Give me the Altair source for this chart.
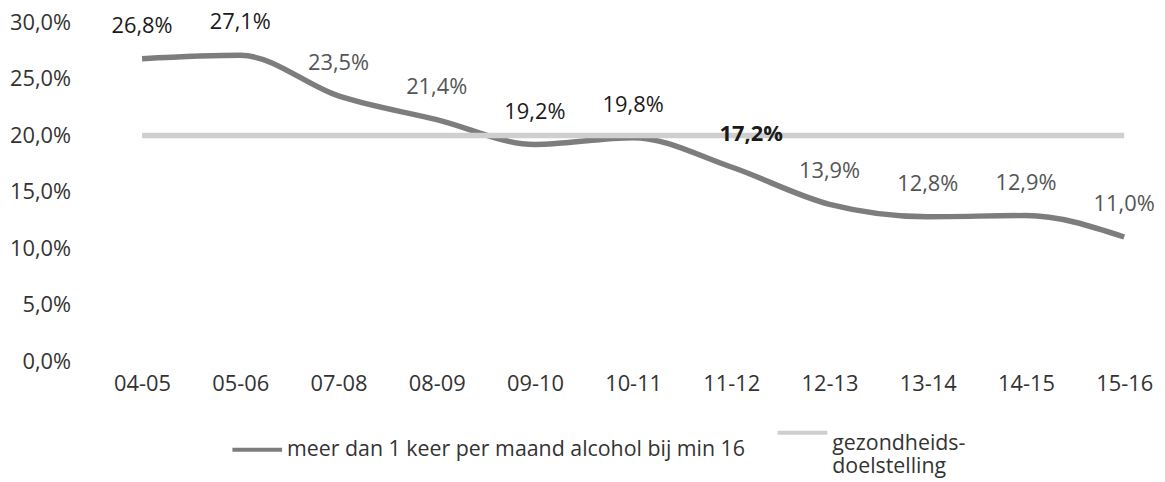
import altair as alt
import pandas as pd

periods = ["04-05", "05-06", "07-08", "08-09", "09-10", "10-11",
           "11-12", "12-13", "13-14", "14-15", "15-16"]
values = [26.8, 27.1, 23.5, 21.4, 19.2, 19.8, 17.2, 13.9, 12.8, 12.9, 11.0]
target = [20.0] * len(periods)

series_main = "meer dan 1 keer per maand alcohol bij min 16"
series_target = "gezondheids-doelstelling"

rows = []
for p, v in zip(periods, values):
    rows.append({"periode": p, "waarde": v / 100, "reeks": series_main,
                 "label": f"{v:.1f}%".replace(".", ",")})
for p, t in zip(periods, target):
    rows.append({"periode": p, "waarde": t / 100, "reeks": series_target, "label": ""})
df = pd.DataFrame(rows)

FONT = "Open Sans"
FS = 22

x = alt.X("periode:N", sort=periods, title=None,
          scale=alt.Scale(type="point", padding=0.435, align=0.674),
          axis=alt.Axis(labelAngle=0, domain=False, ticks=False, grid=False,
                        labelFontSize=FS, labelColor="#333333", labelFont=FONT,
                        labelPadding=13))
y = alt.Y("waarde:Q", title=None,
          scale=alt.Scale(domain=[0, 0.30]),
          axis=alt.Axis(values=[0, 0.05, 0.10, 0.15, 0.20, 0.25, 0.30],
                        labelExpr="replace(format(datum.value, '.1%'), '.', ',')",
                        domain=False, ticks=False, grid=False,
                        labelFontSize=FS, labelColor="#333333", labelFont=FONT,
                        labelPadding=14))

lines = alt.Chart(df).mark_line(strokeWidth=5.5, interpolate="monotone").encode(
    x=x, y=y,
    color=alt.Color("reeks:N", sort=[series_main, series_target],
                    scale=alt.Scale(domain=[series_main, series_target],
                                    range=["#7d7d7d", "#cfcfcf"]),
                    legend=alt.Legend(
                        title=None, orient="none", legendX=147, legendY=386,
                        direction="horizontal", columns=2, columnPadding=24,
                        symbolType="stroke", symbolSize=2500, symbolStrokeWidth=4,
                        labelFontSize=21.5, labelColor="#333333", labelFont=FONT,
                        labelOffset=3, labelLimit=700,
                        labelBaseline={"expr": "datum.value == 'gezondheids-doelstelling' ? 'top' : 'middle'"},
                        labelExpr="datum.label == 'gezondheids-doelstelling' ? ['gezondheids-', 'doelstelling'] : datum.label")),
)

base_labels = alt.Chart(df).transform_filter(alt.datum.reeks == series_main)

labels = base_labels.transform_filter(alt.datum.label != "17,2%").mark_text(
    dy=-33, fontSize=FS, font=FONT, baseline="middle"
).encode(
    x=x, y=y, text="label:N",
    color=alt.condition(
        "indexof(['26,8%','27,1%','19,2%','19,8%'], datum.label) >= 0",
        alt.value("#1a1a1a"), alt.value("#555555")),
)

bold_label = base_labels.transform_filter(alt.datum.label == "17,2%").mark_text(
    dy=-33, dx=20, fontSize=FS, font=FONT, baseline="middle", fontWeight="bold",
    color="#1a1a1a"
).encode(x=x, y=y, text="label:N")

chart = alt.layer(lines, labels, bold_label).properties(
    width=1075, height=341,
    autosize=alt.AutoSizeParams(type="none"),
    padding={"left": 77, "top": 13, "right": 5, "bottom": 120},
).configure(background="white").configure_view(stroke=None)

chart.save("out.html", embed_options={"renderer": "svg", "actions": False})
